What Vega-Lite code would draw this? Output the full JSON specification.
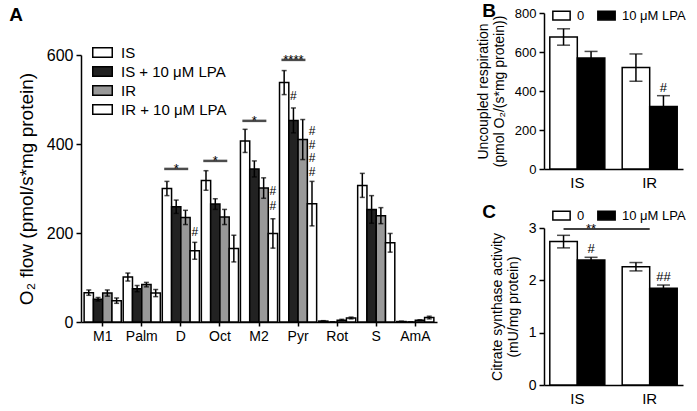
{
  "$schema": "https://vega.github.io/schema/vega-lite/v6.json",
  "background": "white",
  "padding": {"left": 9, "top": 2, "right": 5, "bottom": 5},
  "config": {
    "font": "Liberation Sans",
    "view": {"stroke": null},
    "axis": {"grid": false, "domainColor": "black", "tickColor": "black", "labelColor": "black", "titleColor": "black", "titleFontWeight": "normal", "domainWidth": 1.5, "tickWidth": 1.5, "labelOverlap": false},
    "title": {"color": "black"}
  },
  "title": {"text": "A", "anchor": "start", "frame": "bounds", "fontSize": 19, "fontWeight": "bold", "offset": -23, "dx": -8},
  "resolve": {"scale": {"fill": "independent", "xOffset": "independent", "x": "independent", "y": "independent"}, "legend": {"fill": "independent"}},
  "spacing": 39,
  "hconcat": [
    {
      "spacing": 25,
      "resolve": {"scale": {"fill": "independent", "xOffset": "independent", "x": "independent", "y": "independent"}, "legend": {"fill": "independent"}},
      "vconcat": [
        {
          "width": 356,
          "height": 1,
          "data": {"values": [{"k": 0}]},
          "mark": {"type": "point", "opacity": 0},
          "encoding": {}
        },
        {
          "width": 356,
          "height": 267,
          "data": {"values": [
            {"cat": "M1", "cond": "IS", "v": 66, "lo": 60, "hi": 72},
            {"cat": "M1", "cond": "IS + 10 μM LPA", "v": 51, "lo": 47, "hi": 55},
            {"cat": "M1", "cond": "IR", "v": 65, "lo": 58, "hi": 72},
            {"cat": "M1", "cond": "IR + 10 μM LPA", "v": 48, "lo": 42, "hi": 54},
            {"cat": "Palm", "cond": "IS", "v": 101, "lo": 92, "hi": 110},
            {"cat": "Palm", "cond": "IS + 10 μM LPA", "v": 75, "lo": 68, "hi": 82},
            {"cat": "Palm", "cond": "IR", "v": 84, "lo": 79, "hi": 89},
            {"cat": "Palm", "cond": "IR + 10 μM LPA", "v": 65, "lo": 57, "hi": 73},
            {"cat": "D", "cond": "IS", "v": 300, "lo": 284, "hi": 316},
            {"cat": "D", "cond": "IS + 10 μM LPA", "v": 259, "lo": 244, "hi": 274},
            {"cat": "D", "cond": "IR", "v": 235, "lo": 219, "hi": 251},
            {"cat": "D", "cond": "IR + 10 μM LPA", "v": 160, "lo": 141, "hi": 179},
            {"cat": "Oct", "cond": "IS", "v": 318, "lo": 296, "hi": 340},
            {"cat": "Oct", "cond": "IS + 10 μM LPA", "v": 265, "lo": 253, "hi": 277},
            {"cat": "Oct", "cond": "IR", "v": 236, "lo": 219, "hi": 253},
            {"cat": "Oct", "cond": "IR + 10 μM LPA", "v": 165, "lo": 135, "hi": 195},
            {"cat": "M2", "cond": "IS", "v": 407, "lo": 381, "hi": 433},
            {"cat": "M2", "cond": "IS + 10 μM LPA", "v": 344, "lo": 326, "hi": 362},
            {"cat": "M2", "cond": "IR", "v": 301, "lo": 278, "hi": 324},
            {"cat": "M2", "cond": "IR + 10 μM LPA", "v": 199, "lo": 166, "hi": 232},
            {"cat": "Pyr", "cond": "IS", "v": 538, "lo": 511, "hi": 565},
            {"cat": "Pyr", "cond": "IS + 10 μM LPA", "v": 453, "lo": 425, "hi": 481},
            {"cat": "Pyr", "cond": "IR", "v": 410, "lo": 365, "hi": 455},
            {"cat": "Pyr", "cond": "IR + 10 μM LPA", "v": 266, "lo": 216, "hi": 316},
            {"cat": "Rot", "cond": "IS", "v": 2, "lo": 1, "hi": 3},
            {"cat": "Rot", "cond": "IS + 10 μM LPA", "v": 0, "lo": 0, "hi": 0},
            {"cat": "Rot", "cond": "IR", "v": 4, "lo": 3, "hi": 6},
            {"cat": "Rot", "cond": "IR + 10 μM LPA", "v": 9, "lo": 7, "hi": 11},
            {"cat": "S", "cond": "IS", "v": 307, "lo": 280, "hi": 334},
            {"cat": "S", "cond": "IS + 10 μM LPA", "v": 253, "lo": 222, "hi": 284},
            {"cat": "S", "cond": "IR", "v": 239, "lo": 221, "hi": 257},
            {"cat": "S", "cond": "IR + 10 μM LPA", "v": 178, "lo": 157, "hi": 199},
            {"cat": "AmA", "cond": "IS", "v": 1, "lo": 0, "hi": 2},
            {"cat": "AmA", "cond": "IS + 10 μM LPA", "v": 0, "lo": 0, "hi": 0},
            {"cat": "AmA", "cond": "IR", "v": 4, "lo": 3, "hi": 5},
            {"cat": "AmA", "cond": "IR + 10 μM LPA", "v": 10, "lo": 7, "hi": 13}
          ]},
          "encoding": {
            "x": {"field": "cat", "type": "nominal",
              "scale": {"type": "band", "domain": ["M1", "Palm", "D", "Oct", "M2", "Pyr", "Rot", "S", "AmA"], "paddingInner": 0.05, "paddingOuter": 0.08},
              "axis": {"title": null, "labelAngle": 0, "labelFontSize": 14, "tickSize": 4, "labelPadding": 3}},
            "xOffset": {"field": "cond", "type": "nominal", "scale": {"type": "band", "domain": ["IS", "IS + 10 μM LPA", "IR", "IR + 10 μM LPA"], "paddingInner": 0, "paddingOuter": 0}}
          },
          "layer": [
            {
              "mark": {"type": "bar", "stroke": "black", "strokeWidth": 1.5},
              "encoding": {
                "y": {"field": "v", "type": "quantitative", "scale": {"domain": [0, 600]},
                  "axis": {"values": [0, 200, 400, 600], "title": "O₂ flow (pmol/s*mg protein)", "titleFontSize": 19, "labelFontSize": 16, "tickSize": 5, "labelPadding": 3, "titlePadding": 10}},
                "fill": {"field": "cond", "type": "nominal",
                  "scale": {"domain": ["IS", "IS + 10 μM LPA", "IR", "IR + 10 μM LPA"], "range": ["#ffffff", "#222222", "#999999", "#ffffff"]},
                  "legend": {"orient": "none", "legendX": 11, "legendY": -13, "title": null, "symbolType": "M-1,-0.5H1V0.5H-1Z", "symbolSize": 380, "symbolStrokeColor": "black", "symbolStrokeWidth": 1.5, "symbolOpacity": 1, "labelFontSize": 15, "labelColor": "black", "rowPadding": -2, "labelOffset": 8}}
              }
            },
            {
              "mark": {"type": "rule", "color": "black", "strokeWidth": 1.5},
              "encoding": {"y": {"field": "lo", "type": "quantitative"}, "y2": {"field": "hi"}}
            },
            {
              "mark": {"type": "tick", "color": "black", "size": 5, "thickness": 1.5},
              "encoding": {"y": {"field": "lo", "type": "quantitative"}}
            },
            {
              "mark": {"type": "tick", "color": "black", "size": 5, "thickness": 1.5},
              "encoding": {"y": {"field": "hi", "type": "quantitative"}}
            },
            {
              "data": {"values": [
                {"cat": "D", "cond": "IS + 10 μM LPA", "y": 344, "label": "*"},
                {"cat": "Oct", "cond": "IS + 10 μM LPA", "y": 362, "label": "*"},
                {"cat": "M2", "cond": "IS + 10 μM LPA", "y": 452, "label": "*"},
                {"cat": "Pyr", "cond": "IS + 10 μM LPA", "y": 589, "label": "****"}
              ]},
              "layer": [
                {"mark": {"type": "tick", "color": "black", "size": 24, "thickness": 2.5},
                  "encoding": {"y": {"field": "y", "type": "quantitative"}}},
                {"mark": {"type": "text", "fontSize": 13, "baseline": "alphabetic", "dy": 4, "color": "black"},
                  "encoding": {"y": {"field": "y", "type": "quantitative"}, "text": {"field": "label"}}}
              ]
            },
            {
              "data": {"values": [
                {"cat": "D", "cond": "IR + 10 μM LPA", "y": 202, "label": "#"},
                {"cat": "M2", "cond": "IR + 10 μM LPA", "y": 294, "label": "#"},
                {"cat": "M2", "cond": "IR + 10 μM LPA", "y": 261, "label": "#"},
                {"cat": "Pyr", "cond": "IS + 10 μM LPA", "y": 508, "label": "#"},
                {"cat": "Pyr", "cond": "IR + 10 μM LPA", "y": 429, "label": "#"},
                {"cat": "Pyr", "cond": "IR + 10 μM LPA", "y": 398, "label": "#"},
                {"cat": "Pyr", "cond": "IR + 10 μM LPA", "y": 369, "label": "#"},
                {"cat": "Pyr", "cond": "IR + 10 μM LPA", "y": 337, "label": "#"}
              ]},
              "mark": {"type": "text", "fontSize": 12, "baseline": "middle", "color": "black"},
              "encoding": {"y": {"field": "y", "type": "quantitative"}, "text": {"field": "label"}}
            }
          ]
        }
      ]
    },
    {
      "spacing": 13,
      "resolve": {"scale": {"fill": "independent", "xOffset": "independent", "x": "independent", "y": "independent"}, "legend": {"fill": "independent"}},
      "vconcat": [
        {
          "width": 139,
          "height": 156,
          "title": {"text": "B", "anchor": "start", "frame": "bounds", "fontSize": 19, "fontWeight": "bold", "offset": -15, "dx": 6},
          "data": {"values": [
            {"g": "IS", "t": "0", "v": 677, "lo": 635, "hi": 719},
            {"g": "IS", "t": "10 μM LPA", "v": 569, "lo": 535, "hi": 603},
            {"g": "IR", "t": "0", "v": 520, "lo": 450, "hi": 590},
            {"g": "IR", "t": "10 μM LPA", "v": 320, "lo": 264, "hi": 376}
          ]},
          "encoding": {
            "x": {"field": "g", "type": "nominal", "scale": {"type": "band", "domain": ["IS", "IR"], "paddingInner": 0.24, "paddingOuter": 0.08},
              "axis": {"title": null, "labelAngle": 0, "labelFontSize": 15, "ticks": false, "labelPadding": 6}},
            "xOffset": {"field": "t", "type": "nominal", "scale": {"type": "band", "domain": ["0", "10 μM LPA"], "paddingInner": 0, "paddingOuter": 0}}
          },
          "layer": [
            {
              "mark": {"type": "bar", "stroke": "black", "strokeWidth": 1.5},
              "encoding": {
                "y": {"field": "v", "type": "quantitative", "scale": {"domain": [0, 800]},
                  "axis": {"values": [0, 200, 400, 600, 800], "tickCount": 5, "title": ["Uncoupled respiration", "(pmol O₂/(s*mg protein))"], "titleFontSize": 14, "labelFontSize": 13, "tickSize": 5, "labelPadding": 3, "titlePadding": 8}},
                "fill": {"field": "t", "type": "nominal", "scale": {"domain": ["0", "10 μM LPA"], "range": ["#ffffff", "#000000"]},
                  "legend": {"orient": "none", "legendX": 8, "legendY": -7, "direction": "horizontal", "title": null, "symbolType": "M-1,-0.5H1V0.5H-1Z", "symbolSize": 300, "symbolStrokeColor": "black", "symbolStrokeWidth": 1.5, "symbolOpacity": 1, "labelFontSize": 13, "labelColor": "black", "columnPadding": 9, "labelOffset": 6}}
              }
            },
            {
              "mark": {"type": "rule", "color": "black", "strokeWidth": 1.5},
              "encoding": {"y": {"field": "lo", "type": "quantitative"}, "y2": {"field": "hi"}}
            },
            {
              "mark": {"type": "tick", "color": "black", "size": 13, "thickness": 1.5},
              "encoding": {"y": {"field": "lo", "type": "quantitative"}}
            },
            {
              "mark": {"type": "tick", "color": "black", "size": 13, "thickness": 1.5},
              "encoding": {"y": {"field": "hi", "type": "quantitative"}}
            },
            {
              "data": {"values": [{"g": "IR", "t": "10 μM LPA", "y": 415, "label": "#"}]},
              "mark": {"type": "text", "fontSize": 13, "baseline": "middle", "color": "black"},
              "encoding": {"y": {"field": "y", "type": "quantitative"}, "text": {"field": "label"}}
            }
          ]
        },
        {
          "width": 139,
          "height": 157,
          "title": {"text": "C", "anchor": "start", "frame": "bounds", "fontSize": 19, "fontWeight": "bold", "offset": -16, "dx": -8},
          "data": {"values": [
            {"g": "IS", "t": "0", "v": 2.74, "lo": 2.62, "hi": 2.86},
            {"g": "IS", "t": "10 μM LPA", "v": 2.39, "lo": 2.34, "hi": 2.44},
            {"g": "IR", "t": "0", "v": 2.26, "lo": 2.18, "hi": 2.34},
            {"g": "IR", "t": "10 μM LPA", "v": 1.85, "lo": 1.79, "hi": 1.91}
          ]},
          "encoding": {
            "x": {"field": "g", "type": "nominal", "scale": {"type": "band", "domain": ["IS", "IR"], "paddingInner": 0.24, "paddingOuter": 0.08},
              "axis": {"title": null, "labelAngle": 0, "labelFontSize": 15, "ticks": false, "labelPadding": 6}},
            "xOffset": {"field": "t", "type": "nominal", "scale": {"type": "band", "domain": ["0", "10 μM LPA"], "paddingInner": 0, "paddingOuter": 0}}
          },
          "layer": [
            {
              "mark": {"type": "bar", "stroke": "black", "strokeWidth": 1.5},
              "encoding": {
                "y": {"field": "v", "type": "quantitative", "scale": {"domain": [0, 3]},
                  "axis": {"values": [0, 1, 2, 3], "tickCount": 4, "title": ["Citrate synthase activity", "(mU/mg protein)"], "titleFontSize": 14, "labelFontSize": 14, "tickSize": 5, "labelPadding": 3, "titlePadding": 8}},
                "fill": {"field": "t", "type": "nominal", "scale": {"domain": ["0", "10 μM LPA"], "range": ["#ffffff", "#000000"]},
                  "legend": {"orient": "none", "legendX": 8, "legendY": -22, "direction": "horizontal", "title": null, "symbolType": "M-1,-0.5H1V0.5H-1Z", "symbolSize": 300, "symbolStrokeColor": "black", "symbolStrokeWidth": 1.5, "symbolOpacity": 1, "labelFontSize": 13, "labelColor": "black", "columnPadding": 9, "labelOffset": 6}}
              }
            },
            {
              "mark": {"type": "rule", "color": "black", "strokeWidth": 1.5},
              "encoding": {"y": {"field": "lo", "type": "quantitative"}, "y2": {"field": "hi"}}
            },
            {
              "mark": {"type": "tick", "color": "black", "size": 13, "thickness": 1.5},
              "encoding": {"y": {"field": "lo", "type": "quantitative"}}
            },
            {
              "mark": {"type": "tick", "color": "black", "size": 13, "thickness": 1.5},
              "encoding": {"y": {"field": "hi", "type": "quantitative"}}
            },
            {
              "data": {"values": [
                {"g": "IS", "t": "10 μM LPA", "y": 2.6, "label": "#"},
                {"g": "IR", "t": "10 μM LPA", "y": 2.06, "label": "##"}
              ]},
              "mark": {"type": "text", "fontSize": 13, "baseline": "middle", "color": "black"},
              "encoding": {"y": {"field": "y", "type": "quantitative"}, "text": {"field": "label"}}
            },
            {
              "data": {"values": [{"g": "IS", "g2": "IR", "t": "0", "y": 2.98}]},
              "mark": {"type": "rule", "color": "black", "strokeWidth": 1.5},
              "encoding": {"x2": {"field": "g2"}, "y": {"field": "y", "type": "quantitative"}}
            },
            {
              "data": {"values": [{"g": "IS", "t": "10 μM LPA", "y": 2.98, "label": "**"}]},
              "mark": {"type": "text", "fontSize": 13, "baseline": "alphabetic", "dy": 4, "color": "black"},
              "encoding": {"y": {"field": "y", "type": "quantitative"}, "text": {"field": "label"}}
            }
          ]
        }
      ]
    }
  ]
}
